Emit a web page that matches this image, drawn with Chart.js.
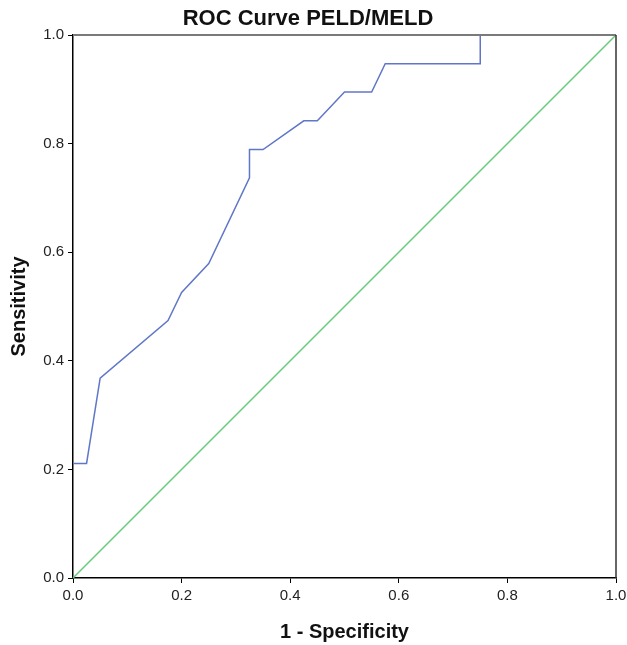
<!DOCTYPE html>
<html>
<head>
<meta charset="utf-8">
<script src="https://cdn.jsdelivr.net/npm/chart.js@4/dist/chart.umd.min.js"></script>
<style>
  html, body { margin: 0; padding: 0; background: #fff; }
  #wrap { width: 627px; height: 645px; }
</style>
</head>
<body>
<div id="wrap"><canvas id="rocChart" width="627" height="645"></canvas></div>
<script>
// ROC curve points (1 - specificity, sensitivity)
const fpr = [0, 0.025, 0.05, 0.175, 0.2, 0.25, 0.325, 0.325, 0.35, 0.425, 0.45, 0.5, 0.55, 0.575, 0.75, 0.75, 1];
const tpr = [0.211, 0.211, 0.368, 0.474, 0.526, 0.579, 0.737, 0.789, 0.789, 0.842, 0.842, 0.895, 0.895, 0.947, 0.947, 1, 1];
// reference diagonal
const refX = [0, 1];
const refY = [0, 1];
const tickValues = [0, 0.2, 0.4, 0.6, 0.8, 1.0];

const toPoints = (xs, ys) => xs.map((x, i) => ({ x, y: ys[i] }));

// top and right frame of the plot box
const frame = {
  id: 'frame',
  afterDatasetsDraw(chart) {
    const { ctx, chartArea: a } = chart;
    ctx.save();
    ctx.strokeStyle = '#7a7a7a';
    ctx.lineWidth = 2;
    ctx.beginPath();
    ctx.moveTo(a.left, a.top);
    ctx.lineTo(a.right, a.top);
    ctx.stroke();
    ctx.strokeStyle = '#333';
    ctx.lineWidth = 1.5;
    ctx.beginPath();
    ctx.moveTo(a.right, a.top);
    ctx.lineTo(a.right, a.bottom);
    ctx.stroke();
    ctx.restore();
  }
};

const axisFont = { family: 'Liberation Sans, Arial, sans-serif', size: 15 };
const titleFont = { family: 'Liberation Sans, Arial, sans-serif', size: 20, weight: 'bold' };

new Chart(document.getElementById('rocChart'), {
  type: 'scatter',
  data: {
    datasets: [
      {
        data: toPoints(fpr, tpr),
        showLine: true,
        borderColor: '#6077c8',
        borderWidth: 1.5,
        pointRadius: 0,
        tension: 0,
        clip: false
      },
      {
        data: toPoints(refX, refY),
        showLine: true,
        borderColor: '#62cc72',
        borderWidth: 1.5,
        pointRadius: 0,
        clip: false
      }
    ]
  },
  options: {
    responsive: false,
    animation: false,
    layout: { padding: { left: 0, top: 0, bottom: 0, right: 11 } },
    plugins: {
      legend: { display: false },
      tooltip: { enabled: false },
      title: {
        display: true,
        text: 'ROC Curve PELD/MELD',
        color: '#111',
        font: { family: 'Liberation Sans, Arial, sans-serif', size: 22, weight: 'bold' },
        padding: { top: 6, bottom: 2.6 }
      }
    },
    scales: {
      x: {
        type: 'linear',
        min: 0,
        max: 1,
        afterBuildTicks: s => { s.ticks = tickValues.map(v => ({ value: v })); },
        afterFit: s => { s.height = 67; s.paddingLeft = 0; s.paddingRight = 0; },
        ticks: { color: '#222', font: axisFont, padding: 4, callback: v => v.toFixed(1), maxRotation: 0 },
        grid: { drawOnChartArea: false, drawTicks: true, tickLength: 5, color: '#000' },
        border: { color: '#000', width: 1.5 },
        title: { display: true, text: '1 - Specificity', color: '#111', font: titleFont, padding: { top: 0, bottom: 1 } }
      },
      y: {
        type: 'linear',
        min: 0,
        max: 1,
        afterBuildTicks: s => { s.ticks = tickValues.map(v => ({ value: v })); },
        afterFit: s => { s.width = 73; s.paddingTop = 0; s.paddingBottom = 0; },
        ticks: { color: '#222', font: axisFont, padding: 4, callback: v => v.toFixed(1) },
        grid: { drawOnChartArea: false, drawTicks: true, tickLength: 5, color: '#000' },
        border: { color: '#000', width: 1.5 },
        title: { display: true, text: 'Sensitivity', color: '#111', font: titleFont, padding: { top: 7, bottom: 0 } }
      }
    }
  },
  plugins: [frame]
});
</script>
</body>
</html>
